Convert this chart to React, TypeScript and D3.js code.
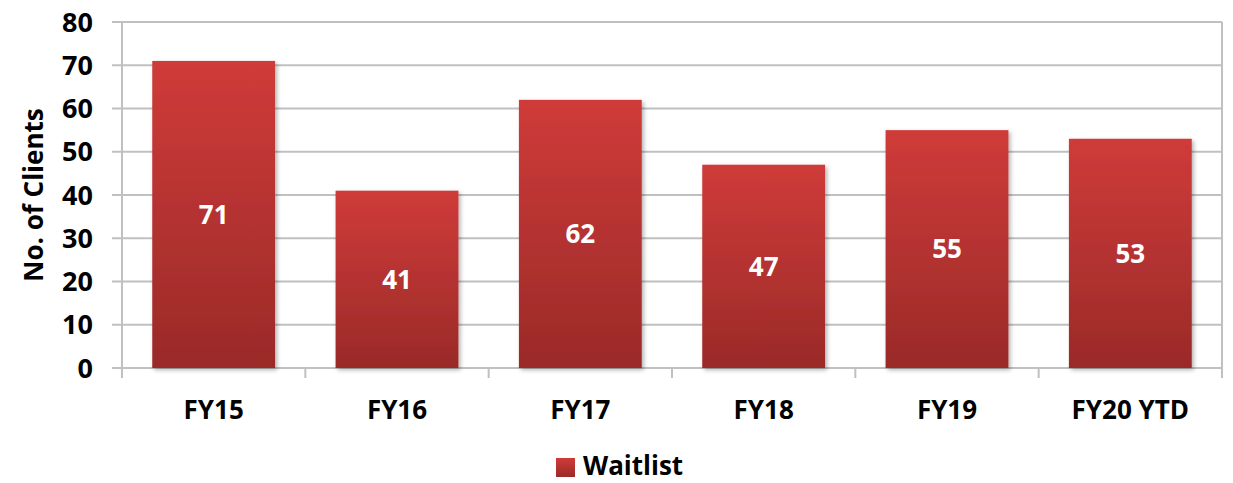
import React from 'react';
import * as d3 from 'd3';

const categories = ['FY15', 'FY16', 'FY17', 'FY18', 'FY19', 'FY20 YTD'];
const waitlist = [71, 41, 62, 47, 55, 53];
const yTicks = [0, 10, 20, 30, 40, 50, 60, 70, 80];

const W = 1233;
const H = 483;
const margin = { top: 22, right: 11, bottom: 115, left: 122 };
const font = '"Open Sans", sans-serif';

const App = () => {
  const x = d3
    .scaleBand<string>()
    .domain(categories)
    .range([margin.left, W - margin.right])
    .paddingInner(0.33)
    .paddingOuter(0.165);
  const y = d3.scaleLinear().domain([0, 80]).range([H - margin.bottom, margin.top]);
  const step = x.step();
  const x0 = margin.left;
  const x1 = W - margin.right;

  return (
    <svg width={W} height={H} style={{ position: 'absolute', left: 0, top: 0, background: '#fff' }}>
      <defs>
        <linearGradient id="barFill" x1="0" y1="0" x2="0" y2="1">
          <stop offset="0%" stopColor="#cf3b39" />
          <stop offset="100%" stopColor="#9a2a28" />
        </linearGradient>
        <filter id="shadow" x="-10%" y="-10%" width="130%" height="130%">
          <feDropShadow dx="2" dy="2" stdDeviation="2" floodColor="#000" floodOpacity="0.3" />
        </filter>
      </defs>

      {/* gridlines and y ticks */}
      {yTicks.map((t) => (
        <line key={t} x1={x0 - 10} x2={x1} y1={y(t)} y2={y(t)} stroke="#c0c0c0" strokeWidth={2} />
      ))}
      <line x1={x0} x2={x0} y1={y(80)} y2={y(0) + 10} stroke="#c0c0c0" strokeWidth={2} />
      <line x1={x1} x2={x1} y1={y(80)} y2={y(0)} stroke="#c0c0c0" strokeWidth={2} />
      {d3.range(categories.length + 1).map((i) => (
        <line key={i} x1={x0 + i * step} x2={x0 + i * step} y1={y(0)} y2={y(0) + 10} stroke="#c0c0c0" strokeWidth={2} />
      ))}

      {yTicks.map((t) => (
        <text key={t} x={93} y={y(t)} dy="0.36em" textAnchor="end" fontFamily={font} fontWeight="bold" fontSize={27} fill="#000">
          {t}
        </text>
      ))}

      {/* bars */}
      {waitlist.map((v, i) => (
        <g key={categories[i]}>
          <rect
            x={x(categories[i])}
            y={y(v)}
            width={x.bandwidth()}
            height={y(0) - y(v)}
            fill="url(#barFill)"
            filter="url(#shadow)"
          />
          <text
            x={(x(categories[i]) as number) + x.bandwidth() / 2}
            y={(y(v) + y(0)) / 2}
            dy="0.36em"
            textAnchor="middle"
            fontFamily={font}
            fontWeight="bold"
            fontSize={26}
            fill="#fff"
          >
            {v}
          </text>
        </g>
      ))}

      {/* x labels */}
      {categories.map((c) => (
        <text key={c} x={(x(c) as number) + x.bandwidth() / 2} y={410} dy="0.36em" textAnchor="middle" fontFamily={font} fontWeight="bold" fontSize={26} fill="#000">
          {c}
        </text>
      ))}

      {/* y axis title */}
      <text transform="translate(34,195) rotate(-90)" dy="0.36em" textAnchor="middle" fontFamily={font} fontWeight="bold" fontSize={26} fill="#000">
        No. of Clients
      </text>

      {/* legend */}
      <rect x={556} y={458} width={19} height={19} fill="url(#barFill)" />
      <text x={583} y={466} dy="0.36em" fontFamily={font} fontWeight="bold" fontSize={26} fill="#000">
        Waitlist
      </text>
    </svg>
  );
};

export default App;
